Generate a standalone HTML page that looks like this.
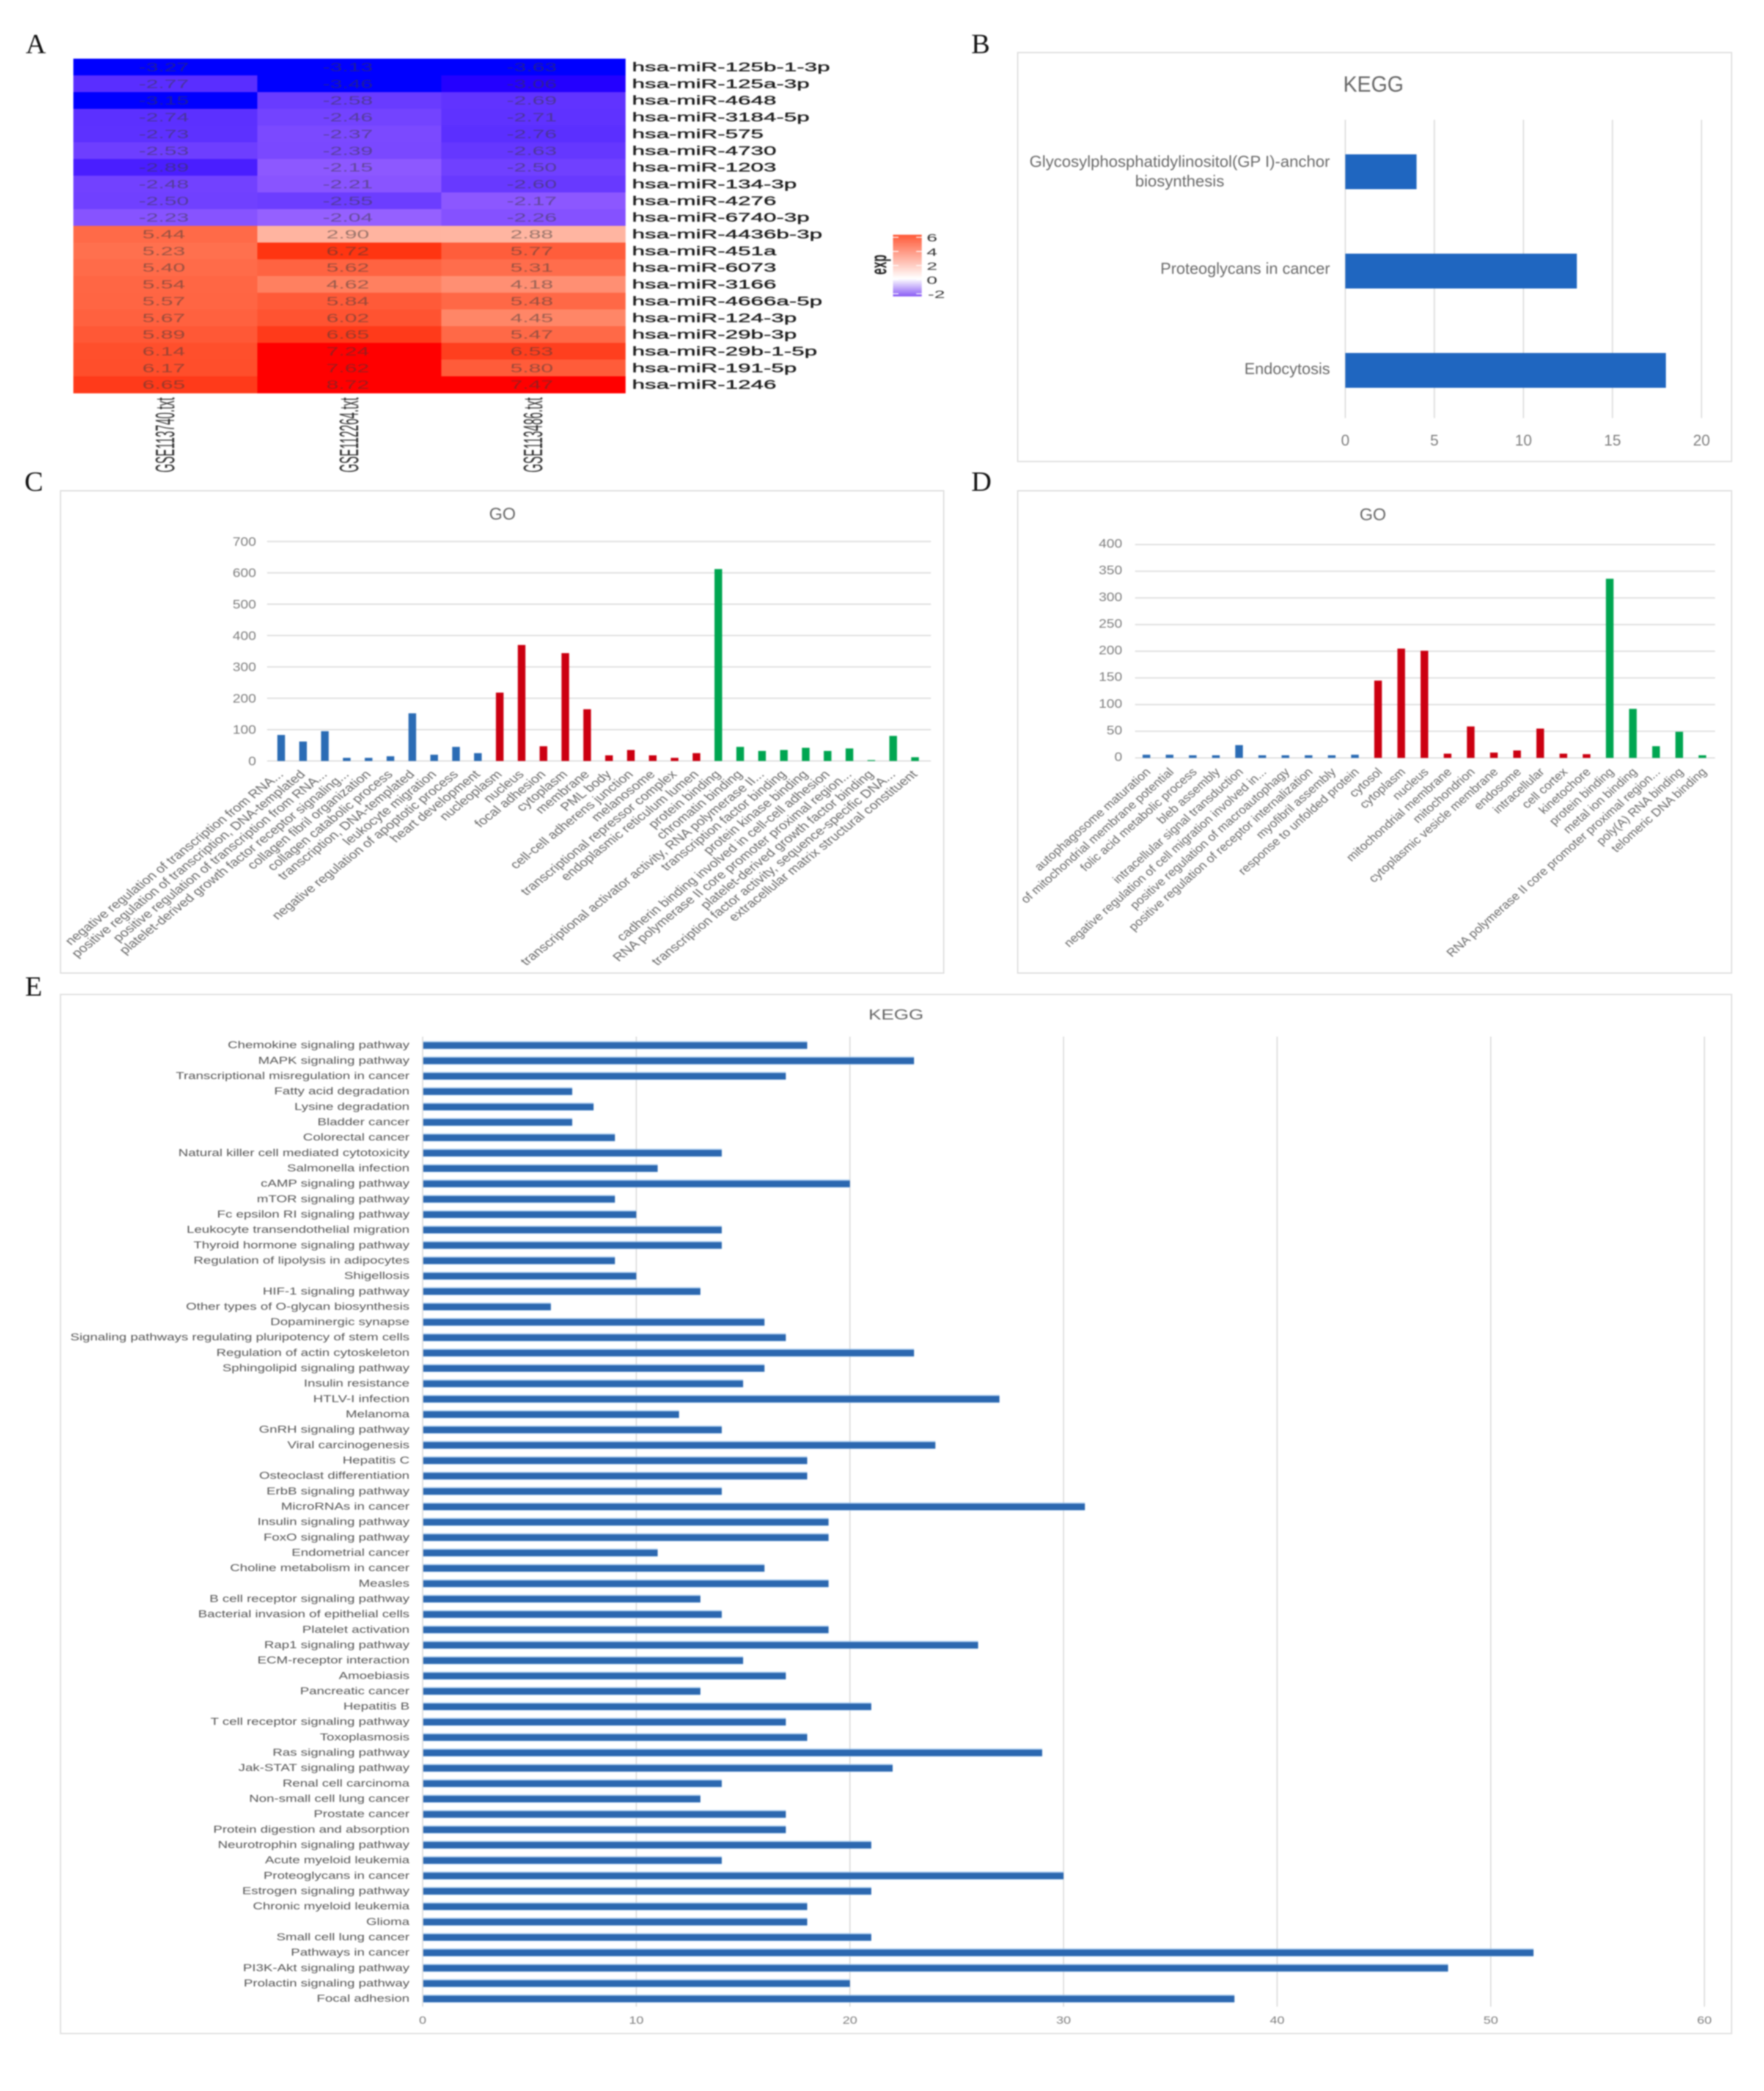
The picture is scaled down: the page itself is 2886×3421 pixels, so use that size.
<!DOCTYPE html>
<html lang="en">
<head>
<meta charset="utf-8">
<title>miRNA heatmap with KEGG and GO enrichment charts</title>
<style>
html,body{margin:0;padding:0;background:#fff;}
svg{display:block;filter:blur(1.1px);font-family:"Liberation Sans",sans-serif;}
.panel{font-family:"Liberation Serif",serif;font-size:46px;fill:#111;}
.frame{fill:none;stroke:#dcdcdc;stroke-width:2;}
.title{fill:#666;text-anchor:middle;}
</style>
</head>
<body>
<svg id="figure" xmlns="http://www.w3.org/2000/svg" width="2886" height="3421" viewBox="0 0 2886 3421">
  <defs>
    <linearGradient id="legendGradient" x1="0" y1="0" x2="0" y2="1">
      <stop offset="0" stop-color="#ff5a38"/>
      <stop offset="0.71" stop-color="#ffffff"/>
      <stop offset="1" stop-color="#8a5cf5"/>
    </linearGradient>
  </defs>
  <rect width="2886" height="3421" fill="#ffffff"/>

  <text class="panel" x="42" y="87">A</text>
  <text class="panel" x="1589" y="87">B</text>
  <text class="panel" x="40" y="803">C</text>
  <text class="panel" x="1589" y="803">D</text>
  <text class="panel" x="41" y="1629">E</text>

  <g id="panelA"></g>

  <g>
    <rect x="1461" y="384" width="47" height="101" fill="url(#legendGradient)"/>
    <text transform="translate(1450,433) scale(1.9,1) rotate(-90)" font-size="19" font-weight="bold" fill="#222" text-anchor="middle">exp</text>
    <g id="legendTicksGroup"></g>
  </g>

  <rect class="frame" x="1665" y="86" width="1168" height="669"/>
  <text class="title" transform="translate(2247,150) scale(0.95,1)" font-size="36">KEGG</text>
  <g id="panelB"></g>

  <rect class="frame" x="99" y="803" width="1445" height="789"/>
  <text class="title" x="822" y="850" font-size="28">GO</text>
  <g id="panelC"></g>

  <rect class="frame" x="1665" y="803" width="1168" height="789"/>
  <text class="title" x="2246" y="851" font-size="28">GO</text>
  <g id="panelD"></g>

  <rect class="frame" x="99" y="1627" width="2734" height="1700"/>
  <text class="title" transform="translate(1466,1668) scale(1.3,1)" font-size="24">KEGG</text>
  <g id="panelE"></g>
</svg>

<script>
// ---------- Panel A data ----------
const heatSamples = ["GSE113740.txt", "GSE112264.txt", "GSE113486.txt"];
const heatMirnas = ["hsa-miR-125b-1-3p","hsa-miR-125a-3p","hsa-miR-4648","hsa-miR-3184-5p","hsa-miR-575","hsa-miR-4730","hsa-miR-1203","hsa-miR-134-3p","hsa-miR-4276","hsa-miR-6740-3p","hsa-miR-4436b-3p","hsa-miR-451a","hsa-miR-6073","hsa-miR-3166","hsa-miR-4666a-5p","hsa-miR-124-3p","hsa-miR-29b-3p","hsa-miR-29b-1-5p","hsa-miR-191-5p","hsa-miR-1246"];
const heatGse113740 = [-3.27,-2.77,-3.15,-2.74,-2.73,-2.53,-2.89,-2.48,-2.50,-2.23,5.44,5.23,5.40,5.54,5.57,5.67,5.89,6.14,6.17,6.65];
const heatGse112264 = [-3.13,-3.46,-2.58,-2.46,-2.37,-2.39,-2.15,-2.21,-2.55,-2.04,2.90,6.72,5.62,4.62,5.84,6.02,6.65,7.24,7.62,8.72];
const heatGse113486 = [-3.63,-3.06,-2.69,-2.71,-2.76,-2.63,-2.50,-2.60,-2.17,-2.26,2.88,5.77,5.31,4.18,5.48,4.45,5.47,6.53,5.80,7.47];
const legendTicks = [6,4,2,0,-2];

// ---------- Panel B data ----------
const keggSmallTerms = ["Glycosylphosphatidylinositol(GP I)-anchor|biosynthesis","Proteoglycans in cancer","Endocytosis"];
const keggSmallCounts = [4,13,18];
const keggSmallTicks = [0,5,10,15,20];

// ---------- Panel C data ----------
const goCTerms = ["negative regulation of transcription from RNA...","positive regulation of transcription, DNA-templated","positive regulation of transcription from RNA...","platelet-derived growth factor receptor signaling...","collagen fibril organization","collagen catabolic process","transcription, DNA-templated","leukocyte migration","negative regulation of apoptotic process","heart development","nucleoplasm","nucleus","focal adhesion","cytoplasm","membrane","PML body","cell-cell adherens junction","melanosome","transcriptional repressor complex","endoplasmic reticulum lumen","protein binding","chromatin binding","transcriptional activator activity, RNA polymerase II...","transcription factor binding","protein kinase binding","cadherin binding involved in cell-cell adhesion","RNA polymerase II core promoter proximal region...","platelet-derived growth factor binding","transcription factor activity, sequence-specific DNA...","extracellular matrix structural constituent"];
const goCProcess = [83,62,95,10,10,15,152,20,45,25];
const goCComponent = [218,370,47,344,165,18,35,18,10,25];
const goCFunction = [612,45,32,35,42,32,40,3,80,12];
const goCTicks = [0,100,200,300,400,500,600,700];

// ---------- Panel D data ----------
const goDTerms = ["autophagosome maturation","of mitochondrial membrane potential","folic acid metabolic process","bleb assembly","intracellular signal transduction","negative regulation of cell migration involved in...","positive regulation of macroautophagy","positive regulation of receptor internalization","myofibril assembly","response to unfolded protein","cytosol","cytoplasm","nucleus","mitochondrial membrane","mitochondrion","cytoplasmic vesicle membrane","endosome","intracellular","cell cortex","kinetochore","protein binding","metal ion binding","RNA polymerase II core promoter proximal region...","poly(A) RNA binding","telomeric DNA binding"];
const goDProcess = [6,6,5,5,24,5,5,5,5,6];
const goDComponent = [145,205,201,8,59,10,14,55,8,7];
const goDFunction = [336,92,22,49,5];
const goDTicks = [0,50,100,150,200,250,300,350,400];

// ---------- Panel E data ----------
const keggLargeTerms = ["Chemokine signaling pathway","MAPK signaling pathway","Transcriptional misregulation in cancer","Fatty acid degradation","Lysine degradation","Bladder cancer","Colorectal cancer","Natural killer cell mediated cytotoxicity","Salmonella infection","cAMP signaling pathway","mTOR signaling pathway","Fc epsilon RI signaling pathway","Leukocyte transendothelial migration","Thyroid hormone signaling pathway","Regulation of lipolysis in adipocytes","Shigellosis","HIF-1 signaling pathway","Other types of O-glycan biosynthesis","Dopaminergic synapse","Signaling pathways regulating pluripotency of stem cells","Regulation of actin cytoskeleton","Sphingolipid signaling pathway","Insulin resistance","HTLV-I infection","Melanoma","GnRH signaling pathway","Viral carcinogenesis","Hepatitis C","Osteoclast differentiation","ErbB signaling pathway","MicroRNAs in cancer","Insulin signaling pathway","FoxO signaling pathway","Endometrial cancer","Choline metabolism in cancer","Measles","B cell receptor signaling pathway","Bacterial invasion of epithelial cells","Platelet activation","Rap1 signaling pathway","ECM-receptor interaction","Amoebiasis","Pancreatic cancer","Hepatitis B","T cell receptor signaling pathway","Toxoplasmosis","Ras signaling pathway","Jak-STAT signaling pathway","Renal cell carcinoma","Non-small cell lung cancer","Prostate cancer","Protein digestion and absorption","Neurotrophin signaling pathway","Acute myeloid leukemia","Proteoglycans in cancer","Estrogen signaling pathway","Chronic myeloid leukemia","Glioma","Small cell lung cancer","Pathways in cancer","PI3K-Akt signaling pathway","Prolactin signaling pathway","Focal adhesion"];
const keggLargeCounts = [18,23,17,7,8,7,9,14,11,20,9,10,14,14,9,10,13,6,16,17,23,16,15,27,12,14,24,18,18,14,31,19,19,11,16,19,13,14,19,26,15,17,13,21,17,18,29,22,14,13,17,17,21,14,30,21,18,18,21,52,48,20,38];
const keggLargeTicks = [0,10,20,30,40,50,60];

// ---------- Helpers ----------
const SVGNS = "http://www.w3.org/2000/svg";
function mk(tag, parent) {
  const el = document.createElementNS(SVGNS, tag);
  parent.appendChild(el);
  return el;
}
function setRect(el, x, y, w, h, fill) {
  el.setAttribute("x", x);
  el.setAttribute("y", y);
  el.setAttribute("width", w);
  el.setAttribute("height", h);
  el.setAttribute("fill", fill);
}
function setLine(el, x1, y1, x2, y2, stroke, width) {
  el.setAttribute("x1", x1);
  el.setAttribute("y1", y1);
  el.setAttribute("x2", x2);
  el.setAttribute("y2", y2);
  el.setAttribute("stroke", stroke);
  el.setAttribute("stroke-width", width);
}
function setText(el, str, transform, size, fill, anchor) {
  el.textContent = str;
  el.setAttribute("transform", transform);
  el.setAttribute("font-size", size);
  el.setAttribute("fill", fill);
  el.setAttribute("text-anchor", anchor);
}
const GRID = "#dcdcdc";
const AXIS_TEXT = "#7f7f7f";
const CAT_TEXT = "#6a6a6a";

// ---------- Panel A ----------
const heatX = function (c) { return 120 + c * 301; };
const heatY = function (r) { return 96 + r * 27.35; };
const heatStopValues = [-3.13,-3.06,-2.89,-2.77,-2.5,-2.2,-2.04,0,2.9,4.18,4.62,5.44,5.84,6.14,6.65,6.72,7.24];
const heatStopColors = [[0,0,255],[36,0,255],[74,30,255],[90,46,255],[112,64,255],[138,85,255],[149,96,255],[255,255,255],[255,180,160],[255,143,115],[255,128,96],[255,106,72],[255,90,56],[255,79,44],[255,58,26],[255,53,17],[255,0,0]];
function heatColor(v) {
  const n = heatStopValues.length;
  if (v <= heatStopValues[0]) return "rgb(" + heatStopColors[0].join(",") + ")";
  if (v >= heatStopValues[n - 1]) return "rgb(" + heatStopColors[n - 1].join(",") + ")";
  for (let i = 1; i < n; i++) {
    if (v <= heatStopValues[i]) {
      const t = (v - heatStopValues[i - 1]) / (heatStopValues[i] - heatStopValues[i - 1]);
      const a = heatStopColors[i - 1], b = heatStopColors[i];
      return "rgb(" + [0, 1, 2].map(function (k) { return Math.round(a[k] + (b[k] - a[k]) * t); }).join(",") + ")";
    }
  }
}
const panelA = document.getElementById("panelA");
const heatColumns = [heatGse113740, heatGse112264, heatGse113486];
heatColumns.forEach(function (col, c) {
  col.forEach(function (v, r) {
    const cell = mk("rect", panelA);
    setRect(cell, heatX(c), heatY(r), 301.5, 27.9, heatColor(v));
    
    
  });
});
heatColumns.forEach(function (col, c) {
  col.forEach(function (v, r) {
    const t = mk("text", panelA);
    setText(t, v.toFixed(2), "translate(" + (heatX(c) + 148) + "," + (heatY(r) + 20.5) + ") scale(1.9,1)", 19, "#3a3a3a", "middle");
    t.setAttribute("opacity", "0.5");
    
    
  });
});
heatMirnas.forEach(function (name, r) {
  const t = mk("text", panelA);
  setText(t, name, "translate(1034," + (heatY(r) + 20.5) + ") scale(1.88,1)", 20, "#1c1c1c", "start");
  t.setAttribute("stroke", "#1c1c1c");
  t.setAttribute("stroke-width", "0.4");
  
  
});
heatSamples.forEach(function (name, c) {
  const t = mk("text", panelA);
  setText(t, name, "translate(" + (heatX(c) + 165) + ",773) scale(2.4,1) rotate(-90)", 18.3, "#333", "start");
  
  
});
const legendY = function (v) { return 457.5 - v * 11.55; };
const legendGroup = document.getElementById("legendTicksGroup");
legendTicks.forEach(function (v) {
  const left = mk("line", legendGroup);
  setLine(left, 1461, legendY(v), 1470, legendY(v), "#ffffff", 1.5);
  
  
  const right = mk("line", legendGroup);
  setLine(right, 1499, legendY(v), 1508, legendY(v), "#ffffff", 1.5);
  
  
  const t = mk("text", legendGroup);
  setText(t, String(v), "translate(" + (v < 0 ? 1518 : 1516) + "," + (legendY(v) + 7) + ") scale(1.75,1)", 18, "#333", "start");
  
  
});

// ---------- Panel B ----------
const panelB = document.getElementById("panelB");
const bX = function (v) { return 2201 + v * 29.14; };
const bY = function (i) { return 281 + i * 162.5; };
keggSmallTicks.forEach(function (v) {
  const g = mk("line", panelB);
  setLine(g, bX(v), 196, bX(v), 684, GRID, 2);
  
  
  const t = mk("text", panelB);
  setText(t, String(v), "translate(" + bX(v) + ",729)", 25, AXIS_TEXT, "middle");
  
  
});
keggSmallCounts.forEach(function (v, i) {
  const bar = mk("rect", panelB);
  setRect(bar, bX(0), bY(i) - 28.5, bX(v) - bX(0), 57, "#1f66c0");
  
  
});
keggSmallTerms.forEach(function (term, i) {
  const parts = term.split("|");
  if (parts.length === 2) {
    const a = mk("text", panelB);
    setText(a, parts[0], "translate(1930," + (bY(i) - 8) + ") scale(1.02,1)", 26, CAT_TEXT, "middle");
    
    
    const b = mk("text", panelB);
    setText(b, parts[1], "translate(1930," + (bY(i) + 24) + ") scale(1.02,1)", 26, CAT_TEXT, "middle");
    
    
  } else {
    const a = mk("text", panelB);
    setText(a, parts[0], "translate(2176," + (bY(i) + 3 + i * 1.5) + ") scale(1.0,1)", 26, CAT_TEXT, "end");
    
    
  }
});

// ---------- Panels C and D ----------
function drawGo(group, terms, process, component, fn, ticks, opt) {
  const x = function (i) { return opt.x0 + i * opt.step; };
  const y = function (v) { return opt.yZero - v * opt.perUnit; };
  ticks.forEach(function (v) {
    const g = mk("line", group);
    setLine(g, opt.gridLeft, y(v), opt.gridRight, y(v), GRID, 2);
    
    
    const t = mk("text", group);
    setText(t, String(v), "translate(" + opt.tickRight + "," + (y(v) + opt.tickDy) + ") scale(1.15,1)", 20, AXIS_TEXT, "end");
    
    
  });
  const series = [[process, "#2b6cb5"], [component, "#cc0011"], [fn, "#00a651"]];
  let idx = 0;
  series.forEach(function (s) {
    s[0].forEach(function (v) {
      const bar = mk("rect", group);
      setRect(bar, x(idx) - 6.25, y(v), 12.5, y(0) - y(v), s[1]);
      
      
      idx++;
    });
  });
  terms.forEach(function (term, i) {
    const t = mk("text", group);
    setText(t, term, "translate(" + (x(i) + opt.labelDx) + "," + opt.labelY + ") scale(" + opt.labelSx + ",1) rotate(-45)", opt.labelSize, CAT_TEXT, "end");
    
    
  });
}
drawGo(document.getElementById("panelC"), goCTerms, goCProcess, goCComponent, goCFunction, goCTicks, {
  x0: 460, step: 35.76, yZero: 1245, perUnit: 0.513, gridLeft: 437, gridRight: 1523, tickRight: 419, tickDy: 7,
  labelDx: 5, labelY: 1268, labelSx: 1.25, labelSize: 19
});
drawGo(document.getElementById("panelD"), goDTerms, goDProcess, goDComponent, goDFunction, goDTicks, {
  x0: 1875.6, step: 37.9, yZero: 1240, perUnit: 0.8725, gridLeft: 1857, gridRight: 2806, tickRight: 1836, tickDy: 5,
  labelDx: 8, labelY: 1264, labelSx: 1.13, labelSize: 18.8
});

// ---------- Panel E ----------
const panelE = document.getElementById("panelE");
const eX = function (v) { return 691.5 + v * 34.95; };
const eY = function (i) { return 1710.2 + i * 25.16; };
keggLargeTicks.forEach(function (v) {
  const g = mk("line", panelE);
  setLine(g, eX(v), 1696, eX(v), 3283, GRID, 2);
  
  
  const t = mk("text", panelE);
  setText(t, String(v), "translate(" + eX(v) + ",3311) scale(1.2,1)", 18, AXIS_TEXT, "middle");
  
  
});
keggLargeCounts.forEach(function (v, i) {
  const halo = mk("rect", panelE);
  setRect(halo, eX(0) + 1, eY(i) - 7, eX(v) - eX(0) - 1, 13.5, "#9cc4ee");
  halo.setAttribute("opacity", "0.75");
  
  
  const bar = mk("rect", panelE);
  setRect(bar, eX(0) + 1, eY(i) - 5, eX(v) - eX(0) - 1, 10.5, "#2c68b0");
  
  
});
keggLargeTerms.forEach(function (term, i) {
  const t = mk("text", panelE);
  setText(t, term, "translate(670," + (eY(i) + 5) + ") scale(1.317,1)", 17, "#555555", "end");
  
  
});
</script>
</body>
</html>
